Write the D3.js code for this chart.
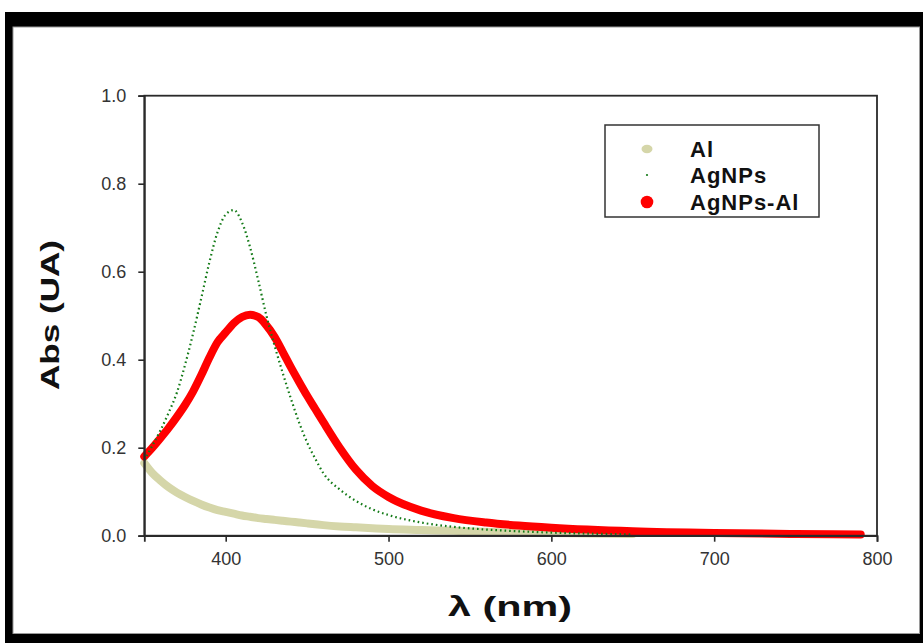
<!DOCTYPE html>
<html>
<head>
<meta charset="utf-8">
<script src="https://cdn.jsdelivr.net/npm/d3@7"></script>
<style>
  html, body { margin: 0; padding: 0; background: #fff; }
  svg { display: block; }
  text { font-family: "Liberation Sans", Arial, sans-serif; }
</style>
</head>
<body>
<svg id="chart" width="923" height="643"></svg>
<script>
// UV-Vis absorption spectra (wavelength in nm, absorbance in UA)
const wavelength = [350,355,360,365,370,375,380,385,390,395,400,405,410,415,420,425,430,435,440,445,450,455,460,470,480,490,500,520,540,560,580,600,650,700,750,790];

const absAl = [0.165,0.142,0.125,0.110,0.098,0.088,0.079,0.071,0.064,0.058,0.054,0.050,0.046,0.043,0.040,0.038,0.036,0.034,0.032,0.030,0.028,0.026,0.024,0.021,0.019,0.017,0.015,0.013,0.011,0.009,0.007,0.006,0.004,null,null,null];

const absAgNPs = [0.172,0.205,0.240,0.280,0.325,0.388,0.460,0.540,0.622,0.690,0.730,0.740,0.712,0.655,0.580,0.500,0.432,0.370,0.312,0.258,0.212,0.175,0.142,0.105,0.079,0.060,0.047,0.030,0.020,0.014,0.010,0.007,0.003,null,null,null];

const absAgNPsAl = [0.180,0.200,0.222,0.245,0.270,0.297,0.328,0.365,0.405,0.440,0.462,0.483,0.497,0.502,0.497,0.478,0.452,0.418,0.383,0.350,0.318,0.288,0.258,0.200,0.150,0.113,0.088,0.057,0.040,0.030,0.023,0.018,0.010,0.006,0.004,0.003];

const seriesNames = ["Al", "AgNPs", "AgNPs-Al"];
const xTicks = [400, 500, 600, 700, 800];
const yTicks = [0.0, 0.2, 0.4, 0.6, 0.8, 1.0];

const svg = d3.select("#chart");

// outer black frame
svg.append("rect").attr("x", 5).attr("y", 12).attr("width", 930).attr("height", 640).attr("fill", "#000");
svg.append("rect").attr("x", 13).attr("y", 27).attr("width", 906.5).attr("height", 606.5)
  .attr("fill", "#fff").attr("stroke", "#9a9a9a").attr("stroke-width", 1);

const x = d3.scaleLinear().domain([350, 800]).range([144.3, 877]);
const y = d3.scaleLinear().domain([0, 1]).range([535.7, 95.7]);

const toPoints = vals => wavelength.map((w, i) => [w, vals[i]]).filter(d => d[1] != null);

const line = d3.line()
  .x(d => x(d[0]))
  .y(d => y(d[1]))
  .curve(d3.curveMonotoneX);

const plot = svg.append("g");

// Al: broad pale band
plot.append("path").datum(toPoints(absAl))
  .attr("d", line).attr("fill", "none")
  .attr("stroke", "#d5d6a9").attr("stroke-width", 8)
  .attr("stroke-linecap", "round").attr("stroke-linejoin", "round");

// AgNPs-Al: thick red band
plot.append("path").datum(toPoints(absAgNPsAl))
  .attr("d", line).attr("fill", "none")
  .attr("stroke", "#ff0000").attr("stroke-width", 8)
  .attr("stroke-linecap", "round").attr("stroke-linejoin", "round");

// AgNPs: small green dots
plot.append("path").datum(toPoints(absAgNPs))
  .attr("d", line).attr("fill", "none")
  .attr("stroke", "#137a17").attr("stroke-width", 2.2)
  .attr("stroke-dasharray", "1.6 3")
  .attr("stroke-linecap", "butt");

// frame around the plot area
svg.append("rect")
  .attr("x", x(350)).attr("y", y(1))
  .attr("width", x(800) - x(350)).attr("height", y(0) - y(1))
  .attr("fill", "none").attr("stroke", "#2a2a2a").attr("stroke-width", 1.8);

// axes
const yAxis = d3.axisLeft(y).tickValues(yTicks).tickFormat(d3.format(".1f")).tickSize(6).tickPadding(12);
const xAxis = d3.axisBottom(x).tickValues(xTicks).tickFormat(d3.format("d")).tickSize(6).tickPadding(11);

const gy = svg.append("g").attr("transform", `translate(${x(350)},0)`).call(yAxis);
const gx = svg.append("g").attr("transform", `translate(0,${y(0)})`).call(xAxis);

[gx, gy].forEach(g => {
  g.select(".domain").attr("stroke", "#2a2a2a").attr("stroke-width", 1.8);
  g.selectAll(".tick line").attr("stroke", "#2a2a2a").attr("stroke-width", 1.6);
  g.selectAll(".tick text")
    .attr("font-family", "'Liberation Sans', Arial, sans-serif")
    .attr("font-size", 18).attr("fill", "#333");
});

// axis titles
svg.append("text")
  .attr("transform", "translate(50,315) rotate(-90)")
  .attr("text-anchor", "middle").attr("dy", "0.35em")
  .attr("font-size", 26).attr("font-weight", "bold").attr("fill", "#111")
  .attr("textLength", 150).attr("lengthAdjust", "spacingAndGlyphs")
  .text("Abs (UA)");

svg.append("text")
  .attr("x", 510).attr("y", 616)
  .attr("text-anchor", "middle")
  .attr("font-size", 28).attr("font-weight", "bold").attr("fill", "#111")
  .attr("textLength", 124).attr("lengthAdjust", "spacingAndGlyphs")
  .text("λ (nm)");

// legend
const legend = svg.append("g");
legend.append("rect")
  .attr("x", 605).attr("y", 125).attr("width", 214).attr("height", 92)
  .attr("fill", "#fff").attr("stroke", "#333").attr("stroke-width", 1.5);

const legendRows = [149, 175, 202];
const mk = legend.selectAll("g.item").data(seriesNames).join("g").attr("class", "item")
  .attr("transform", (d, i) => `translate(0,${legendRows[i]})`);

mk.each(function(d, i) {
  const g = d3.select(this);
  if (i === 0) g.append("ellipse").attr("cx", 647).attr("cy", 0).attr("rx", 5.5).attr("ry", 4.2).attr("fill", "#d5d6a9");
  if (i === 1) g.append("circle").attr("cx", 647).attr("cy", 0).attr("r", 1.1).attr("fill", "#137a17");
  if (i === 2) g.append("circle").attr("cx", 647).attr("cy", 0).attr("r", 6.3).attr("fill", "#ff0000");
  g.append("text").attr("x", 690).attr("y", 0).attr("dy", "0.36em")
    .attr("font-size", 22).attr("font-weight", "bold").attr("fill", "#111")
    .attr("letter-spacing", 1)
    .text(d);
});
</script>
</body>
</html>
